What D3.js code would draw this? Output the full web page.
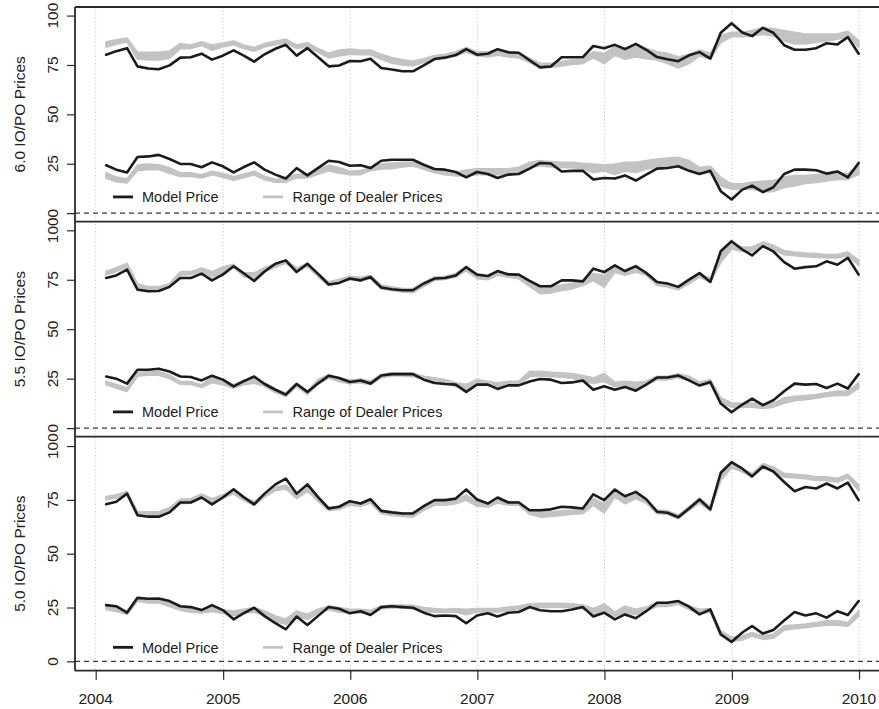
<!DOCTYPE html>
<html>
<head>
<meta charset="utf-8">
<script src="https://cdn.jsdelivr.net/npm/d3@7"></script>
<style>
  html, body { margin: 0; padding: 0; background: #fff; }
  svg { display: block; font-family: "Liberation Sans", Arial, Helvetica, sans-serif; }
</style>
</head>
<body>
<svg id="chart" width="879" height="709"></svg>
<script>
// ---------------- DATA ----------------
const yearTicks = [2004, 2005, 2006, 2007, 2008, 2009, 2010];
const yTicks = [0, 25, 50, 75, 100];
const panelLabels = ["6.0 IO/PO Prices", "5.5 IO/PO Prices", "5.0 IO/PO Prices"];
const legendLabels = ["Model Price", "Range of Dealer Prices"];
const firstMonth = "2004-01";   // monthly observations, month-end
const nMonths = 72;

// 6.0 coupon
const io60Model = [80.2,82.0,83.5,74.3,73.2,72.8,74.8,78.7,78.9,80.7,77.7,79.7,82.4,79.9,76.7,80.4,83.2,85.2,79.7,83.5,79.0,74.3,74.7,77.0,76.9,78.2,73.5,72.7,71.8,71.8,74.8,78.0,78.7,80.0,83.0,80.2,80.7,83.0,81.4,81.2,77.4,73.8,74.2,78.9,78.9,79.0,84.6,83.5,85.2,83.0,85.7,82.7,79.0,77.9,76.9,79.9,81.5,78.2,91.3,96.1,91.4,89.6,93.8,91.3,85.0,82.7,82.7,83.5,86.0,85.4,89.1,80.7];
const io60Hi = [86.6,87.6,88.5,81.4,81.3,81.3,82.0,85.7,85.0,86.6,85.0,86.0,87.0,85.0,83.7,85.8,87.0,87.9,85.0,86.2,83.3,80.8,82.5,83.0,82.5,82.5,80.3,78.7,77.5,76.8,78.0,79.7,80.3,81.6,83.7,81.6,81.6,82.5,81.6,80.8,78.3,75.8,75.8,76.6,77.5,78.3,81.6,80.8,84.1,83.3,84.9,83.3,81.6,80.8,79.1,80.3,82.5,80.8,89.8,91.4,91.4,92.3,93.9,93.4,92.3,91.4,90.6,90.6,90.6,90.6,91.9,87.3];
const io60Lo = [84.1,85.6,86.8,78.1,77.6,77.6,78.5,83.4,83.4,85.0,82.5,84.2,85.4,83.4,82.1,84.2,85.4,86.2,83.4,84.2,81.6,78.7,79.7,80.5,80.3,80.3,78.0,76.0,75.1,74.6,76.3,78.0,78.7,79.7,81.6,79.7,79.1,80.0,79.1,78.7,76.3,73.8,73.8,74.6,75.3,75.8,78.7,75.8,80.0,78.0,79.1,78.3,77.6,75.8,73.6,75.8,79.7,78.3,86.4,89.4,89.4,89.8,90.6,89.8,87.3,85.7,85.7,86.5,87.3,88.1,89.4,84.0];
const po60Model = [24.2,22.0,20.6,28.4,28.7,29.5,27.4,24.9,24.9,23.2,25.7,23.7,20.6,23.2,25.7,22.0,19.5,17.5,22.8,19.1,22.8,26.5,25.9,24.0,24.2,22.8,26.5,27.0,27.0,27.0,24.5,22.3,22.0,20.8,18.1,20.8,19.8,17.8,19.5,19.8,22.5,25.4,25.1,21.1,21.4,21.4,17.0,17.8,17.5,19.1,16.5,19.5,22.5,22.8,23.7,21.4,19.8,21.4,11.1,6.9,11.9,13.9,10.6,13.1,19.8,22.0,22.0,21.7,20.0,21.1,18.1,25.4];
const po60Hi = [20.3,18.1,17.2,24.2,24.7,24.4,22.8,20.3,20.3,19.3,21.1,19.9,18.3,19.6,21.1,18.6,17.0,17.5,19.6,19.6,22.1,24.2,23.0,21.1,21.4,23.0,24.7,25.2,25.6,25.6,24.0,22.3,21.4,20.6,21.7,22.3,22.3,22.3,22.3,23.1,25.6,26.5,26.0,25.6,25.6,25.1,24.7,24.3,24.7,25.6,25.6,26.5,27.3,27.8,28.2,26.5,23.1,23.6,18.0,14.7,14.7,15.6,16.0,16.4,18.1,18.9,18.9,19.4,19.8,20.6,19.8,24.0];
const po60Lo = [17.8,16.0,15.4,21.6,22.1,22.1,20.3,18.6,18.6,17.9,19.5,18.3,16.7,17.9,19.5,17.0,15.8,15.8,17.9,17.9,19.6,21.6,20.3,19.6,19.6,21.6,22.5,22.6,23.5,24.0,22.3,20.6,19.6,18.9,18.9,19.6,19.6,19.6,19.8,20.6,23.1,24.0,23.5,23.1,23.1,22.5,20.6,21.4,19.6,21.4,20.6,22.3,23.2,24.0,24.8,22.3,20.6,20.6,13.9,12.2,12.2,12.2,11.0,11.0,13.1,13.9,15.1,15.6,16.4,17.2,17.2,19.8];

// 5.5 coupon
const io55Model = [75.9,77.2,80.1,70.0,69.2,69.3,71.4,75.9,75.9,78.1,74.7,77.6,81.8,78.4,74.4,79.2,83.1,84.8,78.9,83.1,78.1,72.6,73.4,75.6,74.7,76.4,71.1,70.2,69.7,69.7,73.1,75.6,75.9,77.2,81.4,77.6,76.9,79.4,77.7,77.6,74.4,71.7,71.7,74.7,74.7,74.2,80.6,78.9,82.3,79.4,81.9,78.4,73.9,73.1,71.4,75.1,78.4,73.9,89.4,94.5,90.3,87.3,92.0,89.3,83.9,80.6,81.4,81.8,84.3,82.6,86.1,77.6];
const io55Hi = [79.2,81.0,83.1,72.9,71.4,71.4,72.9,79.0,79.0,80.9,79.0,81.4,82.7,78.4,78.4,81.0,83.1,84.8,80.9,83.1,78.1,73.9,75.1,76.7,76.1,77.2,72.2,71.4,70.5,70.5,73.4,76.4,76.7,78.1,81.4,77.2,76.4,79.0,78.1,77.2,73.4,71.4,71.4,72.2,73.1,74.7,78.1,77.2,81.4,79.0,81.4,79.0,73.9,73.1,71.4,74.7,78.1,75.6,88.1,93.1,91.4,91.4,94.0,92.3,89.7,88.9,88.4,88.1,87.7,87.7,88.9,84.8];
const io55Lo = [77.6,79.2,81.4,71.4,70.0,70.0,71.6,77.4,77.7,79.2,76.5,78.4,81.4,76.7,75.9,79.2,81.4,83.4,79.2,81.8,76.7,72.2,73.4,75.1,74.4,75.6,70.5,69.7,68.9,68.6,71.7,74.7,75.2,76.4,79.7,75.6,75.1,77.4,76.4,75.6,71.7,68.1,68.4,69.7,70.5,72.2,74.7,71.4,78.9,77.4,78.9,77.4,72.2,71.4,70.0,73.1,76.4,73.9,83.9,90.6,89.4,89.4,91.8,90.1,87.7,87.2,86.7,86.4,86.1,86.1,87.2,82.3];
const po55Model = [26.1,25.0,22.5,29.5,29.5,30.0,28.6,26.1,25.8,24.1,26.5,24.5,21.1,23.6,26.1,22.3,19.4,16.9,22.3,18.3,22.5,26.5,25.3,23.3,24.1,22.5,26.6,27.3,27.3,27.3,24.5,22.8,22.3,22.0,18.3,22.0,22.0,19.8,21.6,21.6,23.6,24.8,24.5,22.8,23.1,24.1,19.4,21.1,19.4,20.8,18.9,22.0,25.6,25.6,26.6,24.1,21.5,23.3,12.4,8.0,11.9,14.9,11.6,14.1,18.6,22.5,22.0,22.3,20.3,22.5,20.0,27.3];
const po55Hi = [23.6,21.9,20.3,28.0,28.5,28.5,26.8,23.4,23.4,21.8,26.0,24.5,21.9,24.1,25.3,22.8,19.7,17.7,22.8,18.6,24.5,27.0,25.3,24.1,24.8,23.6,27.0,27.8,27.8,27.8,26.1,25.3,24.5,22.8,22.0,24.5,23.6,22.8,23.6,23.6,28.6,28.6,28.1,27.8,27.5,26.5,25.3,27.5,23.1,23.6,23.1,23.6,26.1,26.1,27.3,26.1,23.1,24.5,15.2,12.7,12.4,12.7,11.6,12.4,15.2,16.0,16.4,16.9,17.7,18.6,18.6,22.8];
const po55Lo = [22.0,20.3,18.6,26.4,26.8,26.8,25.2,22.2,22.2,20.6,23.1,22.0,20.3,22.0,22.8,21.2,18.1,16.1,21.2,17.0,22.5,25.3,23.6,22.5,23.1,22.0,25.6,26.5,26.5,26.1,24.8,23.6,22.8,21.1,19.8,22.8,22.0,21.1,22.0,22.0,26.1,26.5,26.1,25.8,25.3,23.6,22.8,23.6,21.1,21.1,20.3,22.0,24.5,24.5,25.6,24.1,21.5,22.5,12.7,10.7,10.7,10.7,10.0,10.7,12.7,14.0,14.4,15.2,16.1,16.6,16.6,20.3];

// 5.0 coupon
const io50Model = [73.0,74.1,77.9,67.9,67.2,67.2,69.2,73.8,73.8,76.1,72.9,76.1,79.9,76.4,72.9,77.9,82.2,84.9,77.9,82.2,76.4,71.0,71.8,74.4,73.3,75.3,69.9,69.2,68.7,68.7,72.1,74.9,74.9,75.6,79.8,75.2,73.3,76.1,73.8,73.8,70.2,70.2,70.6,71.8,71.5,71.0,77.6,74.9,79.8,76.7,78.7,75.3,69.5,69.0,66.9,71.0,75.2,70.6,87.6,92.5,89.5,85.9,90.5,88.2,83.3,79.0,81.0,80.3,82.6,80.3,83.0,74.9];
const io50Hi = [76.5,77.3,78.8,69.4,69.4,69.4,71.3,75.2,75.4,77.6,75.4,77.3,79.4,76.1,74.1,77.9,80.9,81.8,77.2,80.9,76.1,71.5,72.1,74.1,73.6,75.2,70.2,69.4,68.9,68.9,71.8,74.1,74.1,74.9,77.2,74.1,73.6,75.2,74.1,74.1,70.2,69.4,69.4,69.9,70.2,71.0,75.7,73.3,78.7,75.6,77.9,75.6,70.2,69.9,67.9,71.8,75.7,71.8,87.2,91.8,89.5,87.2,91.8,90.2,87.2,86.8,86.4,85.6,85.6,84.9,86.8,81.8];
const io50Lo = [75.2,76.0,77.4,68.3,67.9,68.3,69.8,73.3,73.6,76.1,73.6,75.8,77.9,74.9,72.6,76.4,79.4,80.2,75.7,79.1,74.6,70.2,70.6,72.6,72.1,73.6,68.7,67.9,67.4,67.1,70.2,72.6,72.6,73.3,74.9,72.1,71.8,73.6,72.6,72.6,68.4,67.1,67.4,67.9,68.4,68.7,72.6,69.0,76.4,73.3,75.6,73.6,68.7,68.4,66.4,70.2,73.6,69.9,84.1,90.0,88.0,85.6,90.0,88.4,85.6,85.3,84.9,84.1,84.1,83.3,85.3,79.4];
const po50Model = [26.1,25.6,22.6,29.5,29.1,29.2,28.0,25.6,25.2,23.8,26.1,23.8,19.5,22.3,24.9,21.0,17.7,14.9,20.8,16.9,21.0,25.2,24.4,22.3,23.3,21.5,25.2,25.6,25.2,24.9,22.6,21.0,21.3,21.0,17.7,21.3,22.3,20.8,22.6,22.9,25.2,23.7,23.3,23.3,24.1,25.2,20.8,22.6,19.5,21.8,20.0,23.3,27.2,27.2,28.0,25.4,21.8,24.1,12.6,9.0,13.4,16.4,12.9,14.6,19.0,22.9,21.3,22.3,20.3,23.3,21.5,28.0];
const po50Hi = [25.6,24.9,23.3,29.5,28.7,28.7,27.2,25.3,24.4,23.8,24.9,23.8,23.3,24.1,24.9,23.3,21.0,19.5,23.3,21.8,24.1,25.6,24.9,24.1,24.1,23.6,25.6,26.1,26.1,25.9,24.9,24.4,24.1,24.4,24.1,24.4,24.4,24.4,25.1,25.6,26.6,26.9,26.9,26.9,26.6,26.1,24.4,26.6,22.9,25.6,24.1,25.1,27.2,27.2,28.0,25.6,24.1,24.4,14.1,11.1,11.8,13.3,11.8,12.6,16.4,16.8,17.2,17.9,18.7,18.7,17.9,23.3];
const po50Lo = [24.1,23.3,21.8,28.0,27.2,27.2,25.6,23.8,22.9,22.6,23.3,22.3,21.3,22.3,22.9,21.3,18.7,17.2,21.0,19.5,22.3,24.1,22.9,22.6,22.6,22.0,24.4,24.9,24.9,24.6,23.3,22.9,22.9,22.9,21.8,22.9,22.9,22.9,23.6,24.1,25.1,25.1,25.1,25.1,25.1,24.4,21.8,23.0,21.0,22.6,21.8,23.3,25.6,25.6,26.6,24.1,22.3,22.9,11.8,9.5,10.0,11.8,10.3,10.8,14.6,15.2,15.7,16.4,16.9,16.9,16.4,21.0];

// ---------------- BUILD ----------------
const parseMonth = d3.timeParse("%Y-%m");
const start = parseMonth(firstMonth);
// month-end dates
const dates = d3.range(nMonths).map(k => d3.timeDay.offset(d3.timeMonth.offset(start, k + 1), -1));

const panels = [
  { label: panelLabels[0], io: [io60Model, io60Lo, io60Hi], po: [po60Model, po60Lo, po60Hi], top: 7,     bottom: 221.7 },
  { label: panelLabels[1], io: [io55Model, io55Lo, io55Hi], po: [po55Model, po55Lo, po55Hi], top: 221.7, bottom: 436.7 },
  { label: panelLabels[2], io: [io50Model, io50Lo, io50Hi], po: [po50Model, po50Lo, po50Hi], top: 436.7, bottom: 670.7 }
];

const left = 75, right = 879;
const svg = d3.select("#chart");
const FONT = "'Liberation Sans', Arial, Helvetica, sans-serif";

const x = d3.scaleTime()
  .domain([new Date(2004, 0, 1), new Date(2010, 0, 1)])
  .range([95.7, 859]);
const yearDates = yearTicks.map(y => new Date(y, 0, 1));

const gray = "#c3c3c3";
const black = "#1b1b1b";
const axisCol = "#2a2a2a";
const textCol = "#222";

// dotted year grid lines (full height)
svg.append("g").selectAll("line").data(yearDates).join("line")
  .attr("x1", d => x(d)).attr("x2", d => x(d))
  .attr("y1", 7).attr("y2", 670.7)
  .attr("stroke", "#bdbdbd").attr("stroke-width", 1)
  .attr("stroke-dasharray", "1,2.5");

panels.forEach((p, i) => {
  const h = p.bottom - p.top;
  const pad = 0.04 * h;
  const y = d3.scaleLinear().domain([0, 100]).range([p.bottom - pad, p.top + pad]);
  const g = svg.append("g");

  // dashed zero line
  g.append("line")
    .attr("x1", left).attr("x2", right)
    .attr("y1", y(0)).attr("y2", y(0))
    .attr("stroke", "#3a3a3a").attr("stroke-width", 1.1)
    .attr("stroke-dasharray", "5,4");

  const area = d3.area()
    .x((d, k) => x(dates[k]))
    .y0(d => y(d[0])).y1(d => y(d[1]));
  const line = d3.line()
    .x((d, k) => x(dates[k]))
    .y(d => y(d));

  [p.io, p.po].forEach(s => {
    const band = d3.range(nMonths).map(k => [s[1][k], s[2][k]]);
    g.append("path").datum(band)
      .attr("d", area)
      .attr("fill", gray).attr("stroke", gray)
      .attr("stroke-width", 2).attr("stroke-linejoin", "round");
  });
  [p.io, p.po].forEach(s => {
    g.append("path").datum(s[0])
      .attr("d", line)
      .attr("fill", "none").attr("stroke", black)
      .attr("stroke-width", 2.6).attr("stroke-linejoin", "round").attr("stroke-linecap", "round");
  });

  // legend
  const ly = y(0) - (i === 2 ? 14 : 16.2);
  const lg = g.append("g").style("font-size", "14.5px").style("font-family", FONT).attr("fill", textCol);
  lg.append("line").attr("x1", 113).attr("x2", 133).attr("y1", ly).attr("y2", ly)
    .attr("stroke", black).attr("stroke-width", 2.8);
  lg.append("text").attr("x", 142).attr("y", ly).attr("dy", "0.36em").text(legendLabels[0]);
  lg.append("line").attr("x1", 263).attr("x2", 283).attr("y1", ly).attr("y2", ly)
    .attr("stroke", gray).attr("stroke-width", 2.8);
  lg.append("text").attr("x", 292.5).attr("y", ly).attr("dy", "0.36em").text(legendLabels[1]);

  // y axis ticks
  const ax = g.append("g").attr("transform", `translate(${left},0)`)
    .call(d3.axisLeft(y).tickValues(yTicks).tickSize(8).tickFormat(""));
  ax.select(".domain").remove();
  ax.selectAll(".tick line").attr("stroke", axisCol).attr("stroke-width", 1.2);
  ax.selectAll(".tick text").remove();

  // rotated tick labels: each in its own rotated group
  const tl = g.append("g").selectAll("g").data(yTicks).join("g")
    .attr("transform", d => "translate(57.5," + y(d).toFixed(2) + ") rotate(-90)");
  tl.append("text")
    .attr("x", 0).attr("y", 0)
    .attr("text-anchor", "middle")
    .style("font-size", "15.5px").style("font-family", FONT)
    .attr("fill", textCol)
    .text(d => String(d));

  // y title
  g.append("g")
    .attr("transform", "translate(25," + ((y(0) + y(100)) / 2).toFixed(2) + ") rotate(-90)")
    .append("text")
    .attr("text-anchor", "middle")
    .style("font-size", "15.5px").style("font-family", FONT)
    .attr("fill", textCol)
    .text(p.label);

  // horizontal borders
  g.append("line").attr("x1", left).attr("x2", right)
    .attr("y1", p.bottom).attr("y2", p.bottom)
    .attr("stroke", axisCol).attr("stroke-width", 1.8);
  if (i === 0) {
    g.append("line").attr("x1", left).attr("x2", right)
      .attr("y1", p.top).attr("y2", p.top)
      .attr("stroke", axisCol).attr("stroke-width", 1.8);
  }
});

// left vertical axis line
svg.append("line").attr("x1", left).attr("x2", left)
  .attr("y1", 7).attr("y2", 670.7)
  .attr("stroke", axisCol).attr("stroke-width", 1.8);

// bottom x axis
const xa = svg.append("g").attr("transform", "translate(0,670.7)")
  .call(d3.axisBottom(x).tickValues(yearDates).tickSize(9).tickFormat(""));
xa.select(".domain").remove();
xa.selectAll(".tick line").attr("stroke", axisCol).attr("stroke-width", 1.2);
xa.selectAll(".tick text").remove();

svg.append("g").selectAll("text").data(yearDates).join("text")
  .attr("x", d => x(d)).attr("y", 703.5)
  .attr("text-anchor", "middle")
  .style("font-size", "15.5px").style("font-family", FONT)
  .attr("fill", textCol)
  .text(d3.timeFormat("%Y"));
</script>
</body>
</html>
